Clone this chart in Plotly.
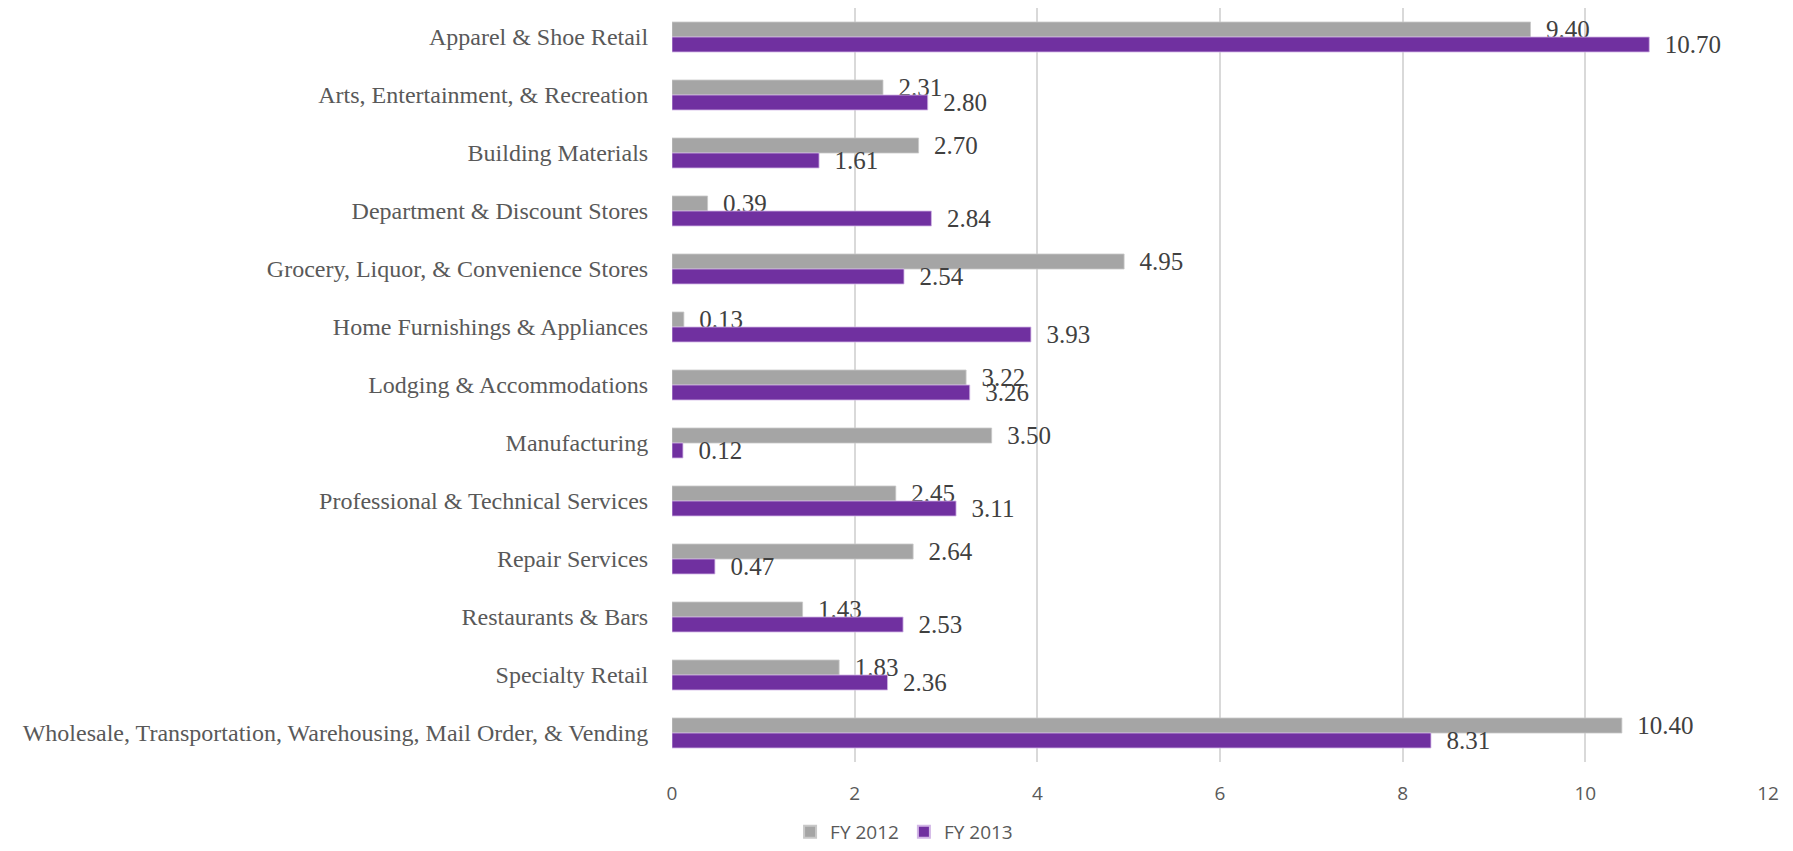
import plotly.graph_objects as go

categories = [
    "Apparel & Shoe Retail",
    "Arts, Entertainment, & Recreation",
    "Building Materials",
    "Department & Discount Stores",
    "Grocery, Liquor, & Convenience Stores",
    "Home Furnishings & Appliances",
    "Lodging & Accommodations",
    "Manufacturing",
    "Professional & Technical Services",
    "Repair Services",
    "Restaurants & Bars",
    "Specialty Retail",
    "Wholesale, Transportation, Warehousing, Mail Order, & Vending",
]
fy2012 = [9.40, 2.31, 2.70, 0.39, 4.95, 0.13, 3.22, 3.50, 2.45, 2.64, 1.43, 1.83, 10.40]
fy2013 = [10.70, 2.80, 1.61, 2.84, 2.54, 3.93, 3.26, 0.12, 3.11, 0.47, 2.53, 2.36, 8.31]
x_ticks = [0, 2, 4, 6, 8, 10, 12]

label_font = dict(family="Liberation Serif, serif", size=25, color="#404040")

fig = go.Figure()
fig.add_trace(go.Bar(
    y=categories, x=fy2012, name="FY 2012", orientation="h",
    marker=dict(color="#A5A5A5", line=dict(color="#C8C8C8", width=0.8)),
    texttemplate="  %{x:.2f}", textposition="outside", textfont=label_font,
    constraintext="none", cliponaxis=False,
))
fig.add_trace(go.Bar(
    y=categories, x=fy2013, name="FY 2013", orientation="h",
    marker=dict(color="#7030A0", line=dict(color="#D2B6E6", width=0.8)),
    texttemplate="  %{x:.2f}", textposition="outside", textfont=label_font,
    constraintext="none", cliponaxis=False,
))

fig.update_layout(
    width=1785, height=843,
    margin=dict(l=664, r=25, t=0, b=89),
    paper_bgcolor="white", plot_bgcolor="white",
    barmode="group", bargap=0.483, bargroupgap=0,
    showlegend=True,
    legend=dict(
        orientation="h", xref="container", yref="container",
        x=0.502, y=0.0, xanchor="center", yanchor="bottom",
        font=dict(family="Open Sans, sans-serif", size=19, color="#595959"),
        traceorder="normal", itemsizing="constant",
    ),
    xaxis=dict(
        range=[0, 12], tickvals=x_ticks, showgrid=True,
        gridcolor="#D9D9D9", gridwidth=1.5, zeroline=False, showline=False,
        ticks="outside", ticklen=14, tickcolor="rgba(0,0,0,0)",
        tickfont=dict(family="Open Sans, sans-serif", size=19, color="#595959"),
    ),
    yaxis=dict(
        autorange="reversed", showgrid=False, zeroline=False, showline=False,
        ticks="outside", ticklen=18, tickcolor="rgba(0,0,0,0)",
        tickfont=dict(family="Liberation Serif, serif", size=24, color="#595959"),
    ),
)

fig.write_html("out.html")
